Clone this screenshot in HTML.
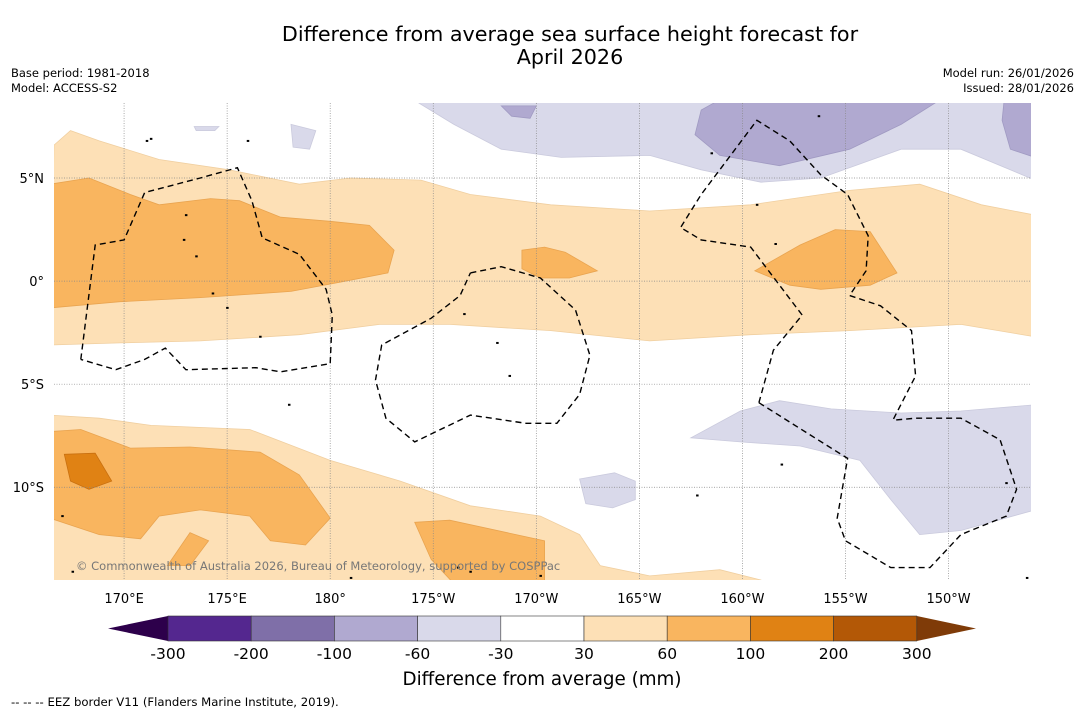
<!DOCTYPE html>
<html><head><meta charset="utf-8">
<style>
body{margin:0;background:#fff;font-family:"DejaVu Sans","Liberation Sans",sans-serif;}
svg text{font-family:"DejaVu Sans","Liberation Sans",sans-serif;}
</style></head>
<body>
<svg id="chart" width="1085" height="713" viewBox="0 0 1085 713" xmlns="http://www.w3.org/2000/svg">
<rect width="1085" height="713" fill="#fff"/>
<text x="570" y="41" font-size="20.7" text-anchor="middle">Difference from average sea surface height forecast for</text>
<text x="570" y="64" font-size="20.7" text-anchor="middle">April 2026</text>
<text x="11" y="77" font-size="11.5">Base period: 1981-2018</text>
<text x="11" y="92" font-size="11.5">Model: ACCESS-S2</text>
<text x="1074" y="77" font-size="11.5" text-anchor="end">Model run: 26/01/2026</text>
<text x="1074" y="92" font-size="11.5" text-anchor="end">Issued: 28/01/2026</text>
<defs><clipPath id="mapclip"><rect x="54" y="103" width="977" height="477"/></clipPath></defs>
<g id="map" clip-path="url(#mapclip)"></g>
<g id="axes"></g>
<g id="cbar"></g>
<text x="542" y="685" font-size="18.3" text-anchor="middle">Difference from average (mm)</text>
<text x="11" y="706" font-size="11.7">-- -- -- EEZ border V11 (Flanders Marine Institute, 2019).</text>
</svg>
<script>
// Map extent
const lonMin=166.6, lonMax=214.0, latMax=8.64, latMin=-14.5;
const lonTicks=[170,175,180,185,190,195,200,205,210];
const lonLabels=["170°E","175°E","180°","175°W","170°W","165°W","160°W","155°W","150°W"];
const latTicks=[5,0,-5,-10];
const latLabels=["5°N","0°","5°S","10°S"];
// Contour regions [lon,lat]
const orange30N=[[166.6,6.6],[167.4,7.3],[168.8,6.8],[171.7,5.9],[175.1,5.4],[178.5,4.7],[181.0,5.0],[184.4,4.9],[186.8,4.2],[190.7,3.7],[195.5,3.4],[200.4,3.7],[205.2,4.4],[208.6,4.7],[211.6,3.7],[214.2,3.2],[214.2,-2.7],[210.6,-2.1],[205.2,-2.4],[200.4,-2.6],[195.5,-2.9],[190.7,-2.4],[185.8,-2.1],[182.4,-2.1],[178.5,-2.6],[173.7,-2.9],[169.8,-3.0],[166.4,-3.1]];
const orange60N=[[166.4,4.7],[168.3,5.0],[170.3,4.2],[171.7,3.7],[174.2,4.0],[175.6,3.9],[177.6,3.1],[180.0,2.9],[181.9,2.7],[183.1,1.5],[182.8,0.4],[180.5,-0.05],[178.1,-0.5],[173.7,-0.8],[169.8,-1.0],[166.4,-1.3]];
const orange60C=[[189.3,1.5],[190.4,1.65],[191.4,1.4],[192.96,0.5],[191.6,0.15],[190.2,0.15],[189.3,0.6]];
const orange60E=[[200.6,0.5],[202.8,1.75],[204.5,2.5],[206.2,2.4],[207.5,0.4],[206.2,-0.2],[203.8,-0.4],[202.3,-0.2]];
const orange30S=[[166.4,-6.5],[168.8,-6.65],[171.3,-7.0],[176.1,-7.2],[180.0,-8.7],[183.4,-9.7],[186.8,-10.9],[190.2,-11.4],[192.1,-12.3],[193.1,-13.8],[195.5,-14.3],[198.9,-14.0],[200.9,-14.5],[200.9,-15],[166.4,-15]];
const orange60S=[[166.4,-7.3],[167.9,-7.2],[170.3,-8.1],[173.2,-8.05],[176.6,-8.3],[178.5,-9.4],[180.0,-11.5],[178.8,-12.8],[177.1,-12.6],[176.1,-11.4],[173.7,-11.1],[171.7,-11.4],[170.8,-12.5],[168.8,-12.3],[166.4,-11.5]];
const orange60S2=[[172.1,-13.8],[173.2,-12.2],[174.1,-12.6],[173.2,-13.8]];
const orange60S3=[[184.1,-11.7],[185.8,-11.6],[190.4,-12.6],[190.4,-15],[186.3,-15],[184.9,-13.5]];
const orange100S=[[167.1,-8.4],[168.6,-8.35],[169.4,-9.7],[168.3,-10.1],[167.4,-9.7]];
const purple30N=[[184.3,8.8],[184.3,8.64],[186.0,7.6],[188.3,6.4],[191.2,6.0],[195.5,6.1],[198.0,5.4],[200.9,4.8],[203.8,5.0],[207.7,6.4],[210.6,6.4],[214.2,4.9],[214.2,8.8]];
const purple60N=[[197.7,7.1],[198.0,8.3],[198.9,8.8],[209.6,8.8],[207.7,7.6],[205.2,6.4],[201.8,5.6],[198.9,6.1]];
const purple60N2=[[212.7,8.8],[214.2,8.8],[214.2,6.0],[213.0,6.4],[212.6,7.8]];
const purple60N3=[[188.3,8.5],[190.0,8.5],[189.7,7.9],[188.8,8.0]];
const purple30S=[[197.5,-7.6],[199.9,-6.3],[201.8,-5.8],[204.3,-6.2],[207.7,-6.4],[210.6,-6.3],[214.2,-6.0],[214.2,-11.1],[210.6,-12.1],[208.6,-12.3],[207.2,-10.6],[205.7,-8.7],[202.8,-8.0],[199.9,-7.8]];
const purple30S2=[[192.1,-9.6],[193.8,-9.3],[194.8,-9.7],[194.8,-10.6],[193.7,-11.0],[192.4,-10.8]];
const purple30a=[[178.1,7.6],[179.3,7.3],[179.0,6.4],[178.2,6.5]];
const purple30b=[[173.4,7.5],[174.6,7.5],[174.4,7.3],[173.5,7.3]];
const eezW=[[167.9,-3.8],[168.6,1.75],[170.0,2.0],[171.0,4.3],[173.7,5.0],[175.5,5.5],[176.2,3.9],[176.7,2.1],[178.5,1.3],[179.8,-0.4],[180.1,-1.65],[180.0,-4.0],[177.6,-4.4],[176.4,-4.2],[173.0,-4.3],[172.0,-3.25],[171.0,-3.8],[169.6,-4.3],[167.9,-3.8]];
const eezC=[[186.8,0.4],[188.3,0.7],[190.2,0.15],[191.9,-1.4],[192.6,-3.6],[192.1,-5.5],[191.0,-6.9],[189.5,-6.9],[186.8,-6.5],[184.1,-7.8],[182.7,-6.65],[182.2,-4.8],[182.5,-3.1],[184.9,-1.8],[186.3,-0.7],[186.8,0.4]];
const eezE1=[[200.8,-5.9],[201.5,-3.35],[202.9,-1.65],[201.8,-0.2],[200.4,1.65],[198.0,2.0],[197.0,2.6],[198.0,4.2],[200.7,7.8],[202.3,6.8],[203.8,5.15],[205.1,4.2],[206.1,2.2],[206.0,0.5],[205.2,-0.7],[206.7,-1.2],[208.2,-2.4],[208.4,-4.6],[207.3,-6.75]];
const eezE2=[[200.8,-5.9],[205.1,-8.6],[204.6,-11.5],[205.0,-12.6],[207.2,-13.9],[209.1,-13.9],[210.6,-12.3],[212.8,-11.4],[213.3,-10.1],[212.5,-7.7],[210.6,-6.65],[208.4,-6.65],[207.3,-6.75]];
const islands=[[171.1,6.8],[171.3,6.9],[176.0,6.8],[173.0,3.2],[172.9,2.0],[173.5,1.2],[174.3,-0.6],[175.0,-1.3],[176.6,-2.7],[178.0,-6.0],[186.5,-1.6],[188.1,-3.0],[188.7,-4.6],[190.2,-14.3],[197.8,-10.4],[201.9,-8.9],[201.6,1.8],[200.7,3.7],[198.5,6.2],[203.7,8.0],[212.8,-9.8],[167.0,-11.4],[167.5,-14.1],[186.2,-13.9],[186.8,-14.1],[181.0,-14.4],[213.8,-14.4]];
const ticksCb=["-300","-200","-100","-60","-30","30","60","100","200","300"];
const cbColors=["#54278f","#7f6fa8","#b0a9d0","#d9d9ea","#ffffff","#fde0b6","#f9b55f","#e08214","#b35806"];
const cbLow="#2d004b", cbHigh="#7f3b08";

const NS="http://www.w3.org/2000/svg";
const x=lon=>54+(lon-lonMin)/(lonMax-lonMin)*977;
const y=lat=>103+(latMax-lat)/(latMax-latMin)*477;
const pts=a=>a.map(p=>x(p[0]).toFixed(1)+","+y(p[1]).toFixed(1)).join(" ");
const map=document.getElementById("map");
function poly(a,fill,stroke,name){
  const e=document.createElementNS(NS,"polygon");
  e.setAttribute("points",pts(a));e.setAttribute("fill",fill);
  e.setAttribute("stroke",stroke);e.setAttribute("stroke-width","0.8");
  
  
  map.appendChild(e);
}
poly(orange30N,"#fde0b6","#f0cfa0","contour-30-north");
poly(orange60N,"#f9b55f","#e9a450","contour-60-north");
poly(orange60C,"#f9b55f","#e9a450","contour-60-central");
poly(orange60E,"#f9b55f","#e9a450","contour-60-east");
poly(orange30S,"#fde0b6","#f0cfa0","contour-30-south");
poly(orange60S,"#f9b55f","#e9a450","contour-60-south");
poly(orange60S2,"#f9b55f","#e9a450","contour-60-south-small");
poly(orange60S3,"#f9b55f","#e9a450","contour-60-south-central");
poly(orange100S,"#e08214","#c97010","contour-100-south");
poly(purple30N,"#d9d9ea","#cacadd","contour-neg30-north");
poly(purple60N,"#b0a9d0","#a09ac2","contour-neg60-north");
poly(purple60N2,"#b0a9d0","#a09ac2","contour-neg60-northeast");
poly(purple60N3,"#b0a9d0","#a09ac2","contour-neg60-small");
poly(purple30S,"#d9d9ea","#cacadd","contour-neg30-south");
poly(purple30S2,"#d9d9ea","#cacadd","contour-neg30-south-small");
poly(purple30a,"#d9d9ea","#cacadd","contour-neg30-small-a");
poly(purple30b,"#d9d9ea","#cacadd","contour-neg30-small-b");
// gridlines
lonTicks.forEach(l=>{const e=document.createElementNS(NS,"line");
  e.setAttribute("x1",x(l));e.setAttribute("x2",x(l));e.setAttribute("y1",103);e.setAttribute("y2",580);
  e.setAttribute("stroke","#888");e.setAttribute("stroke-width","0.7");e.setAttribute("stroke-dasharray","1,1.5");
  
  
  map.appendChild(e);});
latTicks.forEach(l=>{const e=document.createElementNS(NS,"line");
  e.setAttribute("y1",y(l));e.setAttribute("y2",y(l));e.setAttribute("x1",54);e.setAttribute("x2",1031);
  e.setAttribute("stroke","#888");e.setAttribute("stroke-width","0.7");e.setAttribute("stroke-dasharray","1,1.5");
  
  
  map.appendChild(e);});
// EEZ
[[eezW,"eez-border-west"],[eezC,"eez-border-central"],[eezE1,"eez-border-east"],[eezE2,"eez-border-southeast"]].forEach(([a,n])=>{
  const e=document.createElementNS(NS,"polyline");
  e.setAttribute("points",pts(a));e.setAttribute("fill","none");e.setAttribute("stroke","#000");
  e.setAttribute("stroke-width","1.4");e.setAttribute("stroke-dasharray","6,4");
  
  
  map.appendChild(e);});
islands.forEach(p=>{const e=document.createElementNS(NS,"rect");
  e.setAttribute("x",x(p[0])-1);e.setAttribute("y",y(p[1])-1);e.setAttribute("width",2.5);e.setAttribute("height",2);
  e.setAttribute("fill","#000");
  
  
  map.appendChild(e);});
const cp=document.createElementNS(NS,"text");
cp.setAttribute("x",76);cp.setAttribute("y",570);cp.setAttribute("font-size","11.5");cp.setAttribute("fill","#777");
cp.textContent="© Commonwealth of Australia 2026, Bureau of Meteorology, supported by COSPPac";


map.appendChild(cp);
// axis labels
const ax=document.getElementById("axes");
lonTicks.forEach((l,i)=>{const t=document.createElementNS(NS,"text");
  t.setAttribute("x",x(l));t.setAttribute("y",603);t.setAttribute("font-size","13");t.setAttribute("text-anchor","middle");
  t.textContent=lonLabels[i];
  
  
  ax.appendChild(t);});
latTicks.forEach((l,i)=>{const t=document.createElementNS(NS,"text");
  t.setAttribute("x",44);t.setAttribute("y",y(l)+5);t.setAttribute("font-size","13");t.setAttribute("text-anchor","end");
  t.textContent=latLabels[i];
  
  
  ax.appendChild(t);});
// colorbar
const cb=document.getElementById("cbar");
const cx0=168, cw=83.2, cy=616, ch=25;
const tl=document.createElementNS(NS,"polygon");
tl.setAttribute("points",`108,${cy+ch/2} ${cx0},${cy} ${cx0},${cy+ch}`);tl.setAttribute("fill",cbLow);


cb.appendChild(tl);
const th=document.createElementNS(NS,"polygon");
const xe=cx0+cw*cbColors.length;
th.setAttribute("points",`${xe},${cy} ${xe},${cy+ch} 976,${cy+ch/2}`);th.setAttribute("fill",cbHigh);


cb.appendChild(th);
cbColors.forEach((c,i)=>{const r=document.createElementNS(NS,"rect");
  r.setAttribute("x",cx0+i*cw);r.setAttribute("y",cy);r.setAttribute("width",cw);r.setAttribute("height",ch);
  r.setAttribute("fill",c);r.setAttribute("stroke","#333");r.setAttribute("stroke-width","0.6");
  
  
  cb.appendChild(r);});
ticksCb.forEach((s,i)=>{const t=document.createElementNS(NS,"text");
  t.setAttribute("x",cx0+i*cw);t.setAttribute("y",659);t.setAttribute("font-size","15.5");t.setAttribute("text-anchor","middle");
  t.textContent=s;
  
  
  cb.appendChild(t);});
</script>
</body></html>
